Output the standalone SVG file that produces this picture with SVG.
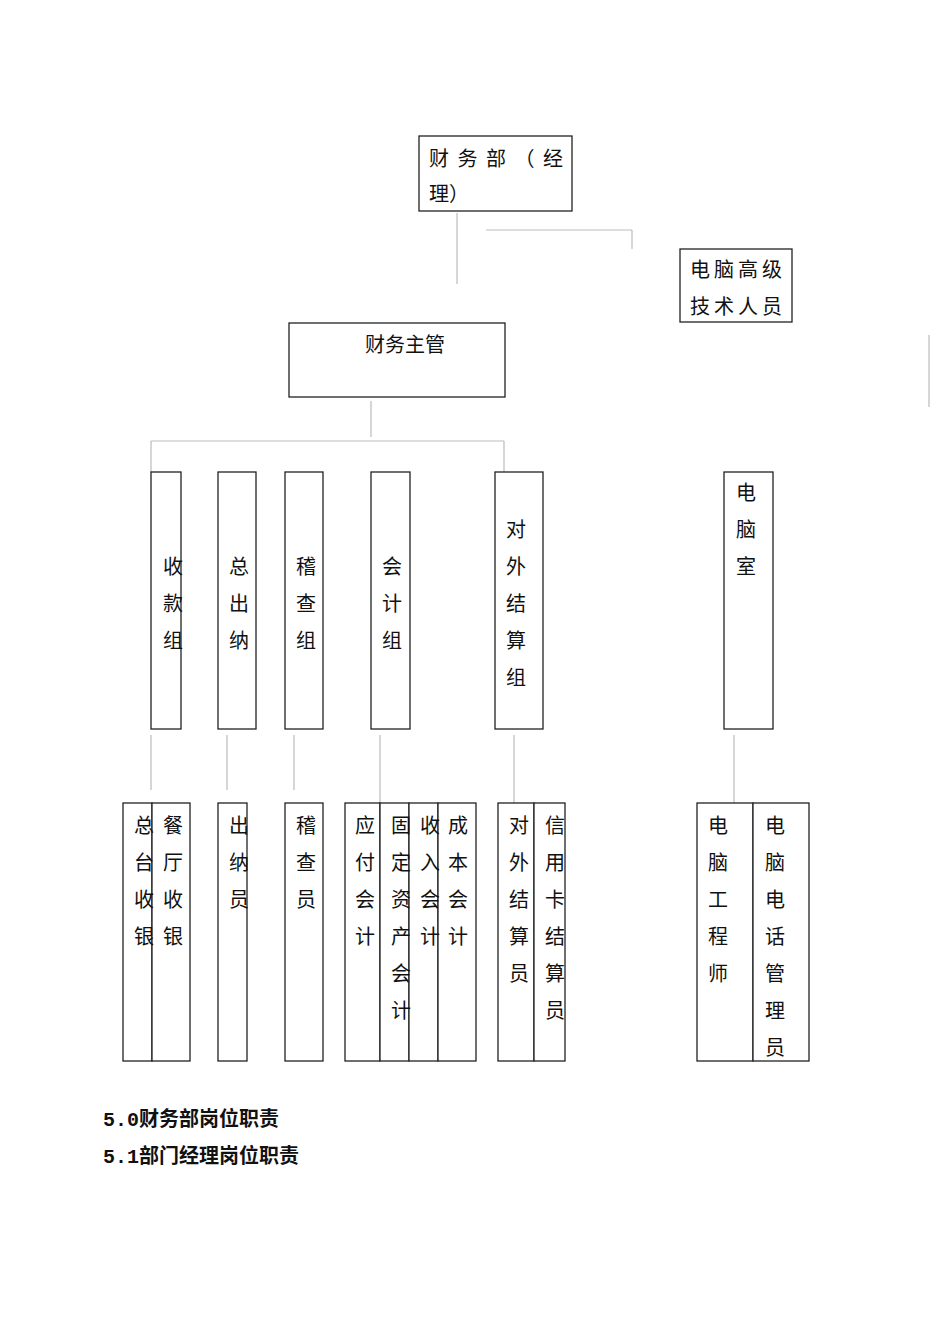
<svg xmlns="http://www.w3.org/2000/svg" width="950" height="1342" viewBox="0 0 950 1342">
<style>
rect{fill:#fff;stroke:#222;stroke-width:1.3}
text{font-family:"Liberation Sans","Noto Sans CJK SC",sans-serif;font-size:20px;fill:#111}
.c line{stroke:#bbb;stroke-width:1.2}
.h{font-family:"Liberation Mono","Noto Sans CJK SC",monospace;font-weight:bold;font-size:20px}
</style>
<rect x="0" y="0" width="950" height="1342" style="stroke:none"/>
<g class="c">
<line x1="457" y1="213" x2="457" y2="284"/>
<line x1="486" y1="230" x2="632" y2="230"/><line x1="632" y1="230" x2="632" y2="249"/>
<line x1="371" y1="401" x2="371" y2="437"/>
<line x1="151" y1="441" x2="504" y2="441"/>
<line x1="151" y1="441" x2="151" y2="472"/><line x1="504" y1="441" x2="504" y2="478"/>
<line x1="151" y1="735" x2="151" y2="790"/>
<line x1="227" y1="735" x2="227" y2="790"/>
<line x1="294" y1="735" x2="294" y2="790"/>
<line x1="380" y1="735" x2="380" y2="803"/>
<line x1="514" y1="735" x2="514" y2="808"/>
<line x1="734" y1="735" x2="734" y2="803"/>
<line x1="929" y1="335" x2="929" y2="407"/>
</g>
<g id="n1"><rect x="419" y="136" width="153" height="75"/><text x="429" y="166" textLength="134" lengthAdjust="spacing">财务部（经</text><text x="429" y="201">理）</text></g>
<g id="n2"><rect x="680" y="249" width="112" height="73"/><text x="690" y="277" textLength="92" lengthAdjust="spacing">电脑高级</text><text x="690" y="314" textLength="92" lengthAdjust="spacing">技术人员</text></g>
<g id="n3"><rect x="289" y="323" width="216" height="74"/><text x="365" y="352">财务主管</text></g>
<g id="m1"><rect x="151" y="472" width="30" height="257"/><text x="163" y="574">收</text><text x="163" y="611">款</text><text x="163" y="648">组</text></g>
<g id="m2"><rect x="218" y="472" width="38" height="257"/><text x="229" y="574">总</text><text x="229" y="611">出</text><text x="229" y="648">纳</text></g>
<g id="m3"><rect x="285" y="472" width="38" height="257"/><text x="296" y="574">稽</text><text x="296" y="611">查</text><text x="296" y="648">组</text></g>
<g id="m4"><rect x="371" y="472" width="39" height="257"/><text x="382" y="574">会</text><text x="382" y="611">计</text><text x="382" y="648">组</text></g>
<g id="m5"><rect x="495" y="472" width="48" height="257"/><text x="506" y="537">对</text><text x="506" y="574">外</text><text x="506" y="611">结</text><text x="506" y="648">算</text><text x="506" y="685">组</text></g>
<g id="m6"><rect x="724" y="472" width="49" height="257"/><text x="736" y="500">电</text><text x="736" y="537">脑</text><text x="736" y="574">室</text></g>
<g id="b1"><rect x="123" y="803" width="29" height="258"/><rect x="152" y="803" width="38" height="258"/>
<text x="134" y="833">总</text><text x="134" y="870">台</text><text x="134" y="907">收</text><text x="134" y="944">银</text>
<text x="163" y="833">餐</text><text x="163" y="870">厅</text><text x="163" y="907">收</text><text x="163" y="944">银</text></g>
<g id="b2"><rect x="218" y="803" width="29" height="258"/><text x="229" y="833">出</text><text x="229" y="870">纳</text><text x="229" y="907">员</text></g>
<g id="b3"><rect x="285" y="803" width="38" height="258"/><text x="296" y="833">稽</text><text x="296" y="870">查</text><text x="296" y="907">员</text></g>
<g id="b4"><rect x="345" y="803" width="35" height="258"/><rect x="380" y="803" width="29" height="258"/><rect x="409" y="803" width="29" height="258"/><rect x="438" y="803" width="38" height="258"/>
<text x="355" y="833">应</text><text x="355" y="870">付</text><text x="355" y="907">会</text><text x="355" y="944">计</text>
<text x="391" y="833">固</text><text x="391" y="870">定</text><text x="391" y="907">资</text><text x="391" y="944">产</text><text x="391" y="981">会</text><text x="391" y="1018">计</text>
<text x="420" y="833">收</text><text x="420" y="870">入</text><text x="420" y="907">会</text><text x="420" y="944">计</text>
<text x="448" y="833">成</text><text x="448" y="870">本</text><text x="448" y="907">会</text><text x="448" y="944">计</text></g>
<g id="b5"><rect x="498" y="803" width="36" height="258"/><rect x="534" y="803" width="31" height="258"/>
<text x="509" y="833">对</text><text x="509" y="870">外</text><text x="509" y="907">结</text><text x="509" y="944">算</text><text x="509" y="981">员</text>
<text x="545" y="833">信</text><text x="545" y="870">用</text><text x="545" y="907">卡</text><text x="545" y="944">结</text><text x="545" y="981">算</text><text x="545" y="1018">员</text></g>
<g id="b6"><rect x="697" y="803" width="56" height="258"/><rect x="753" y="803" width="56" height="258"/>
<text x="708" y="833">电</text><text x="708" y="870">脑</text><text x="708" y="907">工</text><text x="708" y="944">程</text><text x="708" y="981">师</text>
<text x="765" y="833">电</text><text x="765" y="870">脑</text><text x="765" y="907">电</text><text x="765" y="944">话</text><text x="765" y="981">管</text><text x="765" y="1018">理</text><text x="765" y="1055">员</text></g>
<text class="h" x="103" y="1126">5.0财务部岗位职责</text>
<text class="h" x="103" y="1163">5.1部门经理岗位职责</text>
</svg>
